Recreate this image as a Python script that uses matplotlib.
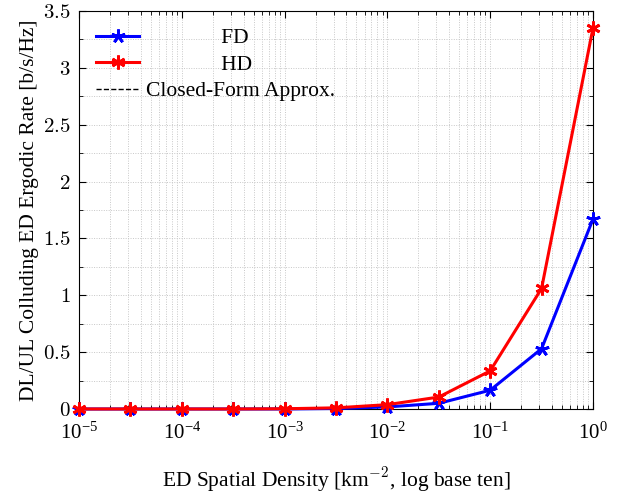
import matplotlib
matplotlib.use("Agg")
import matplotlib.pyplot as plt
import numpy as np
from matplotlib.lines import Line2D
from matplotlib.ticker import MultipleLocator, LogLocator, FuncFormatter

plt.rcParams['font.family'] = ['Liberation Serif', 'DejaVu Serif']
plt.rcParams['mathtext.fontset'] = 'cm'

# Data
density = [1e-5, 10**-4.5, 1e-4, 10**-3.5, 1e-3, 10**-2.5, 1e-2, 10**-1.5, 1e-1, 10**-0.5, 1e0]
rate_fd = [0.0, 0.0, 0.0, 0.0, 0.0, 0.004, 0.018, 0.05, 0.165, 0.53, 1.67]
rate_hd = [0.0, 0.0, 0.0, 0.0, 0.002, 0.01, 0.038, 0.105, 0.335, 1.06, 3.35]
y_ticks = [0, 0.5, 1, 1.5, 2, 2.5, 3, 3.5]

fig = plt.figure(figsize=(6.24, 4.99), dpi=100)
ax = fig.add_axes([0.1266, 0.1804, 0.8237, 0.7976])

ax.plot(density, rate_fd, color='blue', lw=2.2, marker=(5, 2, 0), ms=10, mew=2, label='FD', zorder=3,
        clip_on=False)
ax.plot(density, rate_hd, color='red', lw=2.2, marker=(6, 2, 0), ms=10, mew=2, label='HD', zorder=4,
        clip_on=False)

ax.set_xscale('log')
ax.set_xlim(1e-5, 1)
ax.set_ylim(0, 3.5)
ax.set_yticks(y_ticks)
ax.yaxis.set_major_formatter(FuncFormatter(lambda v, p: f'${v:g}$'))
ax.yaxis.set_minor_locator(MultipleLocator(0.25))
ax.xaxis.set_major_locator(LogLocator(base=10, numticks=10))
ax.xaxis.set_minor_locator(LogLocator(base=10, subs=np.arange(2, 10), numticks=20))

ax.grid(which='both', color='#c8c8c8', linestyle=(0, (1, 1.5)), linewidth=0.7)
ax.tick_params(which='both', direction='in', top=True, right=True, labelsize=15)
ax.tick_params(axis='x', pad=10)
ax.tick_params(axis='y', pad=6)
ax.tick_params(which='major', length=5)
ax.tick_params(which='minor', length=3)

ax.set_xlabel('ED Spatial Density [km$^{-2}$, log base ten]', fontsize=15.5, labelpad=15)
ax.set_ylabel('DL/UL Colluding ED Ergodic Rate [b/s/Hz]', fontsize=15.5, labelpad=3)

handles = [
    Line2D([], [], color='blue', lw=2.2, marker=(5, 2, 0), ms=10, mew=2),
    Line2D([], [], color='red', lw=2.2, marker=(6, 2, 0), ms=10, mew=2),
    Line2D([], [], color='black', lw=1, linestyle='--'),
]
labels = ['              FD', '              HD', 'Closed-Form Approx.']
ax.legend(handles, labels, loc='upper left', frameon=False, fontsize=15.5,
          handlelength=2.0, handletextpad=0.3, borderaxespad=0.4, labelspacing=0.3)

fig.savefig('out.png', dpi=100)
